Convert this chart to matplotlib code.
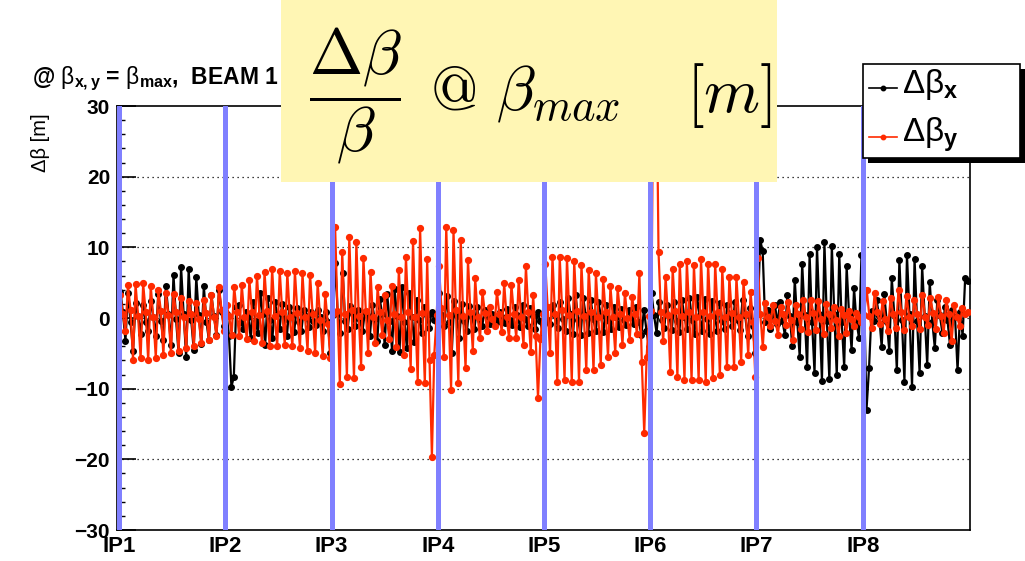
import numpy as np
import matplotlib
matplotlib.use("Agg")
import matplotlib.pyplot as plt
from matplotlib.patches import Rectangle
from matplotlib.lines import Line2D

plt.rcParams['font.family'] = ['Liberation Sans', 'DejaVu Sans']
plt.rcParams['mathtext.fontset'] = 'custom'
plt.rcParams['mathtext.rm'] = 'Liberation Sans'
plt.rcParams['mathtext.it'] = 'Liberation Sans:italic'
plt.rcParams['mathtext.bf'] = 'Liberation Sans:bold'

ip_labels = ["IP1", "IP2", "IP3", "IP4", "IP5", "IP6", "IP7", "IP8"]
ip_pos = [0, 1, 2, 3, 4, 5, 6, 7]

# delta beta x at beta max, one list per octant (IP_k -> IP_k+1), in m
dbx_oct1 = [3.7, 0.8, -3.2, 3.5, -0.5, -4.6, 2.1, 0.3, -2.2, 1.8, -0.6, -1.9, 2.4, 0.2, -2.6, 3.4, -0.4, -3.1, 4.5, 0.5, -3.8,
            6.1, -0.2, -4.9, 7.2, 0.6, -5.5, 6.9, -0.3, -4.5, 5.8, 0.4, -3.7, 4.5, -0.5, -3.1, 3.2, 0.3, -2.4, 4.0, 0.9, -1.2]
dbx_oct2 = [0.6, -2.5, -9.7, -8.4, 1.5, 1.9, -0.6, -1.6, 0.9, 0.2, -2.8, 2.3, -0.4, -2.1, 3.5, 0.5, -3.8, 2.8, -0.3, -2.9, 2.2,
            0.6, -1.5, 2.0, -0.2, -2.5, 1.6, 0.4, -2.0, 1.4, -0.5, -1.8, 1.2, 0.3, -1.3, 0.9, -0.4, -1.0, 1.1, 0.2, -1.9, 0.8,
            -0.6, -5.0]
dbx_oct3 = [0.4, 7.8, 0.5, -2.1, 6.4, -0.4, -1.6, 1.7, 0.6, -1.2, 1.2, -0.3, -1.9, 0.9, 0.4, -2.6, 1.8, -0.2, -3.3, 2.7, 0.5,
            -3.8, 3.4, -0.4, -4.6, 4.1, 0.3, -4.8, 4.4, -0.5, -4.3, 3.6, 0.2, -3.4, 2.5, -0.3, -2.1, 1.6, 0.4, -1.4, 0.9, -0.3,
            -0.6]
dbx_oct4 = [3.6, 0.4, -1.2, 3.1, -0.6, -5.0, 2.4, 0.3, -2.8, 2.0, -0.4, -1.9, 1.7, 0.2, -1.5, 1.5, -0.3, -1.2, 1.1, 0.3, -0.8,
            0.6, -0.2, -0.5, 0.9, 0.2, -0.7, 1.3, -0.3, -1.0, 1.6, 0.4, -1.3, 1.9, -0.2, -1.1, 1.4, 0.3, -1.6, 0.8, -0.4, -2.2]
dbx_oct5 = [1.2, -0.3, -0.9, 1.8, 0.4, -1.4, 2.3, -0.2, -1.9, 2.9, 0.5, -2.2, 3.2, -0.3, -2.4, 2.8, 0.4, -2.1, 2.5, -0.2, -1.8,
            2.2, 0.3, -2.0, 1.9, -0.4, -1.6, 1.5, 0.2, -1.3, 1.3, -0.3, -1.0, 1.1, 0.2, -0.8, 1.6, -0.5, -2.4, 1.2, -1.8, -4.1]
dbx_oct6 = [3.5, 0.4, -2.1, 2.2, -0.3, -1.4, 1.8, 0.3, -1.7, 2.3, -0.4, -2.0, 2.6, 0.2, -1.6, 2.9, -0.3, -2.2, 3.0, 0.4, -1.9,
            2.7, -0.2, -2.3, 2.4, 0.3, -1.8, 2.1, -0.4, -1.5, 1.9, 0.2, -1.2, 2.3, -0.3, -1.7, 2.6, 0.4, -2.6, 1.4, -1.2, -5.0]
dbx_oct7 = [0.5, 11.0, 9.5, -0.5, 1.2, -1.5, 0.6, 1.8, -0.9, 2.2, -0.4, -2.4, 3.3, 0.3, -4.0, 5.4, -0.5, -5.5, 7.7, 0.4, -6.9,
            9.0, -0.6, -7.8, 10.0, 0.5, -8.9, 10.7, -0.4, -8.7, 10.2, 0.6, -8.1, 9.1, -0.5, -6.9, 7.3, 0.3, -4.5, 4.2, -0.6,
            -2.8, 8.9]
dbx_oct8 = [3.7, -13.0, -7.1, 1.0, -0.4, 2.5, 0.3, -4.1, 3.4, -0.5, -4.6, 5.6, 0.4, -7.4, 8.2, -0.3, -9.0, 8.9, 0.5, -9.7, 8.3,
            -0.4, -7.8, 7.3, 0.3, -6.6, 5.1, -0.5, -4.2, 2.6, 0.4, -2.1, 1.5, -0.3, -3.8, 1.2, 0.2, -7.4, 0.8, -2.5, 5.6, 5.2]

# delta beta y at beta max, one list per octant, in m
dby_oct1 = [3.2, 0.5, -1.8, 4.6, 1.2, -5.9, 4.8, 0.3, -5.7, 4.9, 0.8, -6.0, 4.5, 0.2, -5.6, 3.9, 1.0, -5.3, 3.5, 0.4, -5.0,
            3.4, 0.9, -4.6, 2.8, 0.1, -4.2, 2.4, 0.6, -3.9, 2.1, -0.2, -3.6, 2.6, 0.7, -3.1, 3.3, 0.2, -2.6, 4.4, 1.1, -1.9]
dby_oct2 = [1.8, 0.3, -2.4, 4.4, 0.8, -2.6, 4.7, 0.2, -3.0, 5.4, 0.9, -3.3, 6.0, 0.4, -3.6, 6.5, 1.0, -3.9, 7.0, 0.3, -4.0,
            6.7, 0.8, -3.8, 6.4, 0.1, -4.0, 6.6, 0.7, -4.3, 6.3, 0.2, -4.6, 6.1, 0.6, -4.9, 5.0, -0.3, -5.4, 3.4, -0.8, -5.6]
dby_oct3 = [0.6, 12.9, 1.0, -9.3, 9.4, 0.5, -8.3, 11.4, 1.2, -8.5, 10.8, 0.3, -6.9, 8.5, 1.0, -4.9, 6.5, 0.2, -3.5, 4.4, 0.8,
            -2.4, 3.2, -0.3, -3.0, 4.5, 0.6, -4.1, 6.8, 0.1, -5.3, 8.7, 0.9, -7.2, 10.9, 0.2, -9.0, 12.7, 0.7, -9.2, 8.3, -6.0,
            -19.6, -5.2, 0.4]
dby_oct4 = [7.3, 1.4, -5.5, 12.9, 0.4, -10.2, 12.4, 1.1, -9.2, 11.0, 0.3, -7.1, 8.2, 0.9, -4.6, 5.6, 0.2, -2.9, 3.7, 0.7, -1.9,
            1.6, -0.2, -1.2, 3.7, 0.5, -2.0, 4.9, 0.1, -2.8, 4.7, 0.6, -2.8, 5.4, 0.2, -3.8, 7.3, 0.8, -4.8, 3.2, -2.5, -11.3,
            -3.0, 0.5]
dby_oct5 = [7.7, 1.5, -5.0, 8.7, 0.6, -9.1, 8.6, 1.2, -8.8, 8.5, 0.4, -9.0, 8.0, 1.0, -9.0, 7.5, 0.3, -7.4, 6.8, 0.9, -7.4,
            6.3, 0.2, -6.6, 5.5, 0.8, -5.5, 4.5, 0.1, -4.9, 4.2, 0.6, -3.8, 3.6, 0.0, -3.1, 3.0, 0.5, -2.3, 6.3, -6.2, -16.3,
            -5.5, 0.3]
dby_oct6 = [1.0, 45.0, 40.0, 9.4, 0.8, -3.3, 5.8, 0.4, -7.6, 7.0, 1.0, -8.3, 7.7, 0.3, -8.8, 8.0, 0.9, -8.8, 7.5, 0.2, -8.8,
            8.3, 0.8, -9.1, 7.7, 0.3, -8.5, 7.7, 0.9, -8.1, 6.9, 0.2, -6.9, 5.8, 0.7, -6.9, 5.8, 0.1, -6.2, 5.1, 0.6, -5.2, 3.7,
            -0.5, -8.3]
dby_oct7 = [8.5, 0.6, -4.1, 2.1, 0.2, -1.2, 1.9, -0.4, -2.4, 1.5, 0.5, -1.0, 2.2, -0.3, -3.1, 1.8, 0.6, -1.5, 2.5, 0.1, -2.0,
            2.6, 0.7, -1.7, 2.4, -0.2, -2.3, 2.0, 0.5, -1.4, 1.6, -0.3, -2.6, 1.3, 0.4, -2.1, 1.0, -0.2, -1.2, 0.7, 0.1, -0.6]
dby_oct8 = [0.4, 4.0, 0.3, -1.4, 3.6, 0.8, -0.9, 2.4, -0.2, -1.8, 2.9, 0.5, -1.4, 4.0, 0.9, -1.7, 3.1, 0.2, -1.2, 2.6, 0.6,
            -1.6, 3.3, 0.1, -1.0, 2.8, 0.7, -1.5, 3.0, 0.3, -2.1, 2.5, 0.5, -3.3, 1.8, 0.2, -1.1, 1.4, 0.6, 0.9]

dbx_octants = [dbx_oct1, dbx_oct2, dbx_oct3, dbx_oct4, dbx_oct5, dbx_oct6, dbx_oct7, dbx_oct8]
dby_octants = [dby_oct1, dby_oct2, dby_oct3, dby_oct4, dby_oct5, dby_oct6, dby_oct7, dby_oct8]


def along_ring(octants):
    # monitors sit evenly inside each octant, s in units of one octant
    s, v = [], []
    for k, vals in enumerate(octants):
        n = len(vals)
        s.extend(k + (np.arange(n) + 0.5) / n)
        v.extend(vals)
    return np.array(s), np.array(v)


s_x, dbx = along_ring(dbx_octants)
s_y, dby = along_ring(dby_octants)

W, H = 1025, 561
fig = plt.figure(figsize=(W / 100, H / 100), dpi=100)


def fx(px):
    return px / W


def fy(py):
    return 1 - py / H


ax = fig.add_axes([fx(117), fy(530), fx(970) - fx(117), fy(106) - fy(530)])

red = '#ff2a00'
blue = '#8080ff'

for g in [-20, -10, 0, 10, 20]:
    ax.axhline(g, color='k', lw=0.9, ls=(0, (1, 3)), zorder=1)

ax.plot(s_x, dbx, color='k', lw=1.6, marker='o', ms=4.0, zorder=3)
ax.plot(s_y, dby, color=red, lw=1.6, marker='o', ms=4.2, zorder=4)

for p in ip_pos:
    ax.axvline(p, color=blue, lw=3.6, zorder=5)

ax.set_xlim(-0.02, 8.01)
ax.set_ylim(-30, 30)
ax.set_yticks(range(-30, 31, 10))
ax.set_yticks(range(-30, 31, 2), minor=True)
ax.set_xticks(ip_pos)
ax.set_xticklabels(ip_labels)
ax.tick_params(axis='y', which='major', direction='in', length=14, width=1.2, labelsize=15, pad=5)
ax.tick_params(axis='y', which='minor', direction='in', length=6, width=1.0)
ax.tick_params(axis='x', length=0, labelsize=16, pad=4)
for lbl in ax.get_yticklabels() + ax.get_xticklabels():
    lbl.set_fontweight('bold')
for sp in ax.spines.values():
    sp.set_linewidth(1.2)

fig.text(fx(40), fy(143), 'Δβ [m]', rotation=90, ha='center', va='center', fontsize=14.5)

fig.text(fx(32), fy(84), r'@ $\mathrm{\beta}_{\mathbf{x,y}}$ = $\mathrm{\beta}_{\mathbf{max}}$,  BEAM 1',
         fontsize=16.5, fontweight='bold', va='baseline')

# legend with drop shadow
fig.add_artist(Rectangle((fx(868), fy(163)), fx(1025) - fx(868), fy(69) - fy(163),
                         transform=fig.transFigure, facecolor='k', edgecolor='none', zorder=8))
fig.add_artist(Rectangle((fx(863), fy(158)), fx(1020) - fx(863), fy(64) - fy(158),
                         transform=fig.transFigure, facecolor='white', edgecolor='k', lw=1.2, zorder=9))
for col, yy, sub in [('k', 88, 'x'), (red, 137, 'y')]:
    fig.add_artist(Line2D([fx(869), fx(883), fx(897)], [fy(yy)] * 3, transform=fig.transFigure,
                          color=col, lw=1.2, marker='o', ms=3.2, markevery=[1], zorder=10))
    fig.text(fx(902), fy(yy + 5), r'$\mathrm{\Delta\beta}_{\mathbf{%s}}$' % sub, fontsize=24,
             va='baseline', zorder=10)

# yellow annotation box
fig.add_artist(Rectangle((fx(281), fy(182)), fx(777) - fx(281), fy(0) - fy(182),
                         transform=fig.transFigure, facecolor='#fff6b4', edgecolor='none', zorder=11))
fig.text(fx(355), fy(96), r'$\dfrac{\Delta\beta}{\beta}$', math_fontfamily='cm', fontsize=46,
         ha='center', va='center', zorder=12)
fig.text(fx(430), fy(110), r'$@$', math_fontfamily='cm', fontsize=44, va='baseline', zorder=12)
fig.text(fx(496), fy(110), r'$\beta_{max}$', math_fontfamily='cm', fontsize=46, va='baseline', zorder=12)
fig.text(fx(686), fy(112), r'$[m]$', math_fontfamily='cm', fontsize=46, va='baseline', zorder=12)

fig.savefig('out.png', dpi=100)
